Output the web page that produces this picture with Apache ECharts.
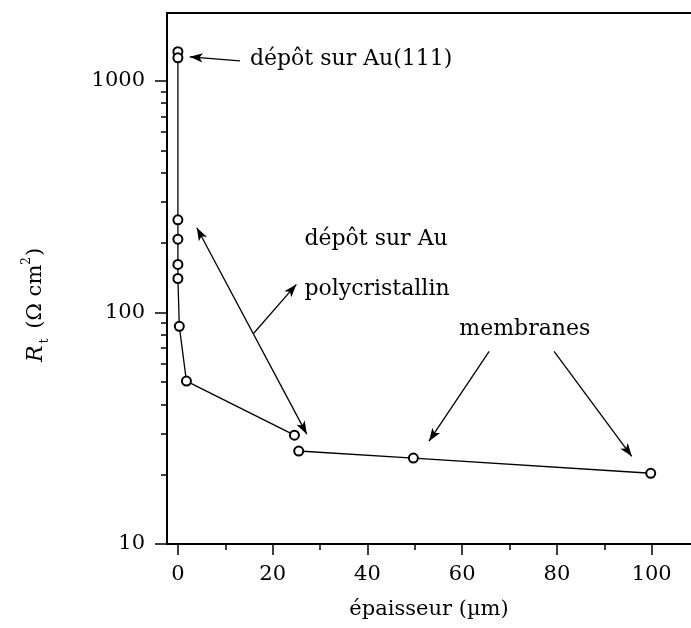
<!DOCTYPE html>
<html><head><meta charset="utf-8">
<script src="https://cdn.jsdelivr.net/npm/echarts@6/dist/echarts.min.js"></script>
<style>html,body{margin:0;padding:0;background:#fff}#c{width:691px;height:628px}</style>
</head><body><div id="c"></div>
<script>
// ---- data ----
const xMajorTicks = [0, 20, 40, 60, 80, 100];
const xMinorTicks = [10, 30, 50, 70, 90];
const yMajorTicks = [10, 100, 1000];
const yMinorTicks = [20, 30, 40, 50, 60, 70, 80, 90, 200, 300, 400, 500, 600, 700, 800, 900];

// dépôt (Au(111) + Au polycristallin), thickness (µm) vs Rt (Ω cm²)
const depotX = [0, 0, 0, 0, 0, 0, 0.3, 1.8, 24.6];
const depotY = [1334, 1256, 251, 207, 161, 140, 87, 50.5, 29.5];
// membranes
const membX = [25.5, 49.7, 99.8];
const membY = [25.2, 23.5, 20.2];

// annotation arrows (data coordinates)
const arrowFrom = [[13.1, 1219], [4.0, 232], [16.0, 81.2], [65.7, 67.9], [79.4, 67.9]];
const arrowTo   = [[2.5, 1268], [27.2, 29.8], [25.0, 132], [53.0, 27.8], [95.8, 23.9]];
const arrowBoth = [false, true, false, false, false];

// annotation texts
const noteText = ['dépôt sur Au(111)', 'dépôt sur Au', 'polycristallin', 'membranes'];
const notePos  = [[15.2, 1232], [26.7, 206.6], [26.7, 125.6], [59.4, 84.5]];

const FONT = 'DejaVu Serif';
const chart = echarts.init(document.getElementById('c'), null, {renderer: 'canvas'});

const pairs = (xs, ys) => xs.map((x, i) => [x, ys[i]]);

const xRange = {min: -2.3, max: 108.3};
const yRange = {min: 10, max: 1960};

const option = {
  animation: false,
  backgroundColor: '#fff',
  grid: {left: 167, top: 13, right: 0, bottom: 84, containLabel: false},
  xAxis: [
    {
      type: 'value', ...xRange, position: 'bottom',
      name: 'épaisseur (µm)', nameLocation: 'middle', nameGap: 55,
      nameTextStyle: {fontFamily: FONT, fontSize: 21, color: '#000'},
      axisLine: {show: true, onZero: false, lineStyle: {color: '#000', width: 2}},
      axisTick: {show: true, length: 11, customValues: xMajorTicks, lineStyle: {color: '#000', width: 1.5}},
      axisLabel: {show: true, customValues: xMajorTicks, margin: 20, fontFamily: FONT, fontSize: 21, color: '#000',
                  formatter: v => String(v)},
      splitLine: {show: false}
    },
    {
      type: 'value', ...xRange, position: 'bottom',
      axisLine: {show: false, onZero: false},
      axisTick: {show: true, length: 6, customValues: xMinorTicks, lineStyle: {color: '#000', width: 1.5}},
      axisLabel: {show: false},
      splitLine: {show: false}
    },
    {
      type: 'value', ...xRange, position: 'top',
      axisLine: {show: true, onZero: false, lineStyle: {color: '#000', width: 2}},
      axisTick: {show: false}, axisLabel: {show: false}, splitLine: {show: false}
    }
  ],
  yAxis: [
    {
      type: 'log', logBase: 10, ...yRange, position: 'left',
      axisLine: {show: true, onZero: false, lineStyle: {color: '#000', width: 2}},
      axisTick: {show: true, length: 12, customValues: yMajorTicks, lineStyle: {color: '#000', width: 1.5}},
      axisLabel: {show: true, customValues: yMajorTicks, margin: 22, fontFamily: FONT, fontSize: 21, color: '#000',
                  formatter: v => String(Math.round(v))},
      splitLine: {show: false}, minorTick: {show: false}
    },
    {
      type: 'log', logBase: 10, ...yRange, position: 'left',
      axisLine: {show: false, onZero: false},
      axisTick: {show: true, length: 6, customValues: yMinorTicks, lineStyle: {color: '#000', width: 1.5}},
      axisLabel: {show: false}, splitLine: {show: false}
    }
  ],
  graphic: [{
    type: 'text', x: 36, y: 305, rotation: Math.PI / 2,
    style: {
      text: '{i|R}{s|t} (Ω cm{p|2})',
      align: 'center', verticalAlign: 'middle',
      fill: '#000', fontFamily: FONT, fontSize: 21,
      rich: {
        i: {fontFamily: FONT, fontSize: 22, fontStyle: 'italic', fill: '#000', lineHeight: 30},
        s: {fontFamily: FONT, fontSize: 13, fill: '#000', verticalAlign: 'bottom', lineHeight: 30, padding: [8, 3, 0, 2]},
        p: {fontFamily: FONT, fontSize: 12, fill: '#000', verticalAlign: 'top', lineHeight: 30, padding: [0, 1, 10, 0]}
      }
    }
  }],
  series: [
    {
      type: 'line', name: 'dépôt', xAxisIndex: 0, yAxisIndex: 0,
      data: pairs(depotX, depotY),
      symbol: 'emptyCircle', symbolSize: 9, showSymbol: true,
      lineStyle: {color: '#000', width: 1.3},
      itemStyle: {color: '#000', borderColor: '#000', borderWidth: 1.4},
      emphasis: {disabled: true}, z: 3
    },
    {
      type: 'line', name: 'membranes', xAxisIndex: 0, yAxisIndex: 0,
      data: pairs(membX, membY),
      symbol: 'emptyCircle', symbolSize: 9,
      lineStyle: {color: '#000', width: 1.3},
      itemStyle: {color: '#000', borderColor: '#000', borderWidth: 1.4},
      emphasis: {disabled: true}, z: 3,
      markLine: {
        silent: true, animation: false,
        symbol: ['none', 'arrow'], symbolSize: [7, 13],
        label: {show: false},
        lineStyle: {color: '#000', width: 1.3, type: 'solid'},
        emphasis: {disabled: true},
        data: arrowFrom.map((f, i) => [
          {coord: f, symbol: arrowBoth[i] ? 'arrow' : 'none'},
          {coord: arrowTo[i], symbol: 'arrow'}
        ])
      }
    },
    {
      type: 'scatter', name: 'notes', xAxisIndex: 0, yAxisIndex: 0,
      silent: true, symbol: 'circle', symbolSize: 0, itemStyle: {color: '#000'},
      label: {show: true, position: 'right', distance: 0, formatter: '{b}',
              fontFamily: FONT, fontSize: 22, color: '#000', opacity: 1},
      emphasis: {disabled: true},
      data: noteText.map((t, i) => ({name: t, value: notePos[i]})),
      z: 5
    }
  ]
};
chart.setOption(option);
</script>
</body></html>
